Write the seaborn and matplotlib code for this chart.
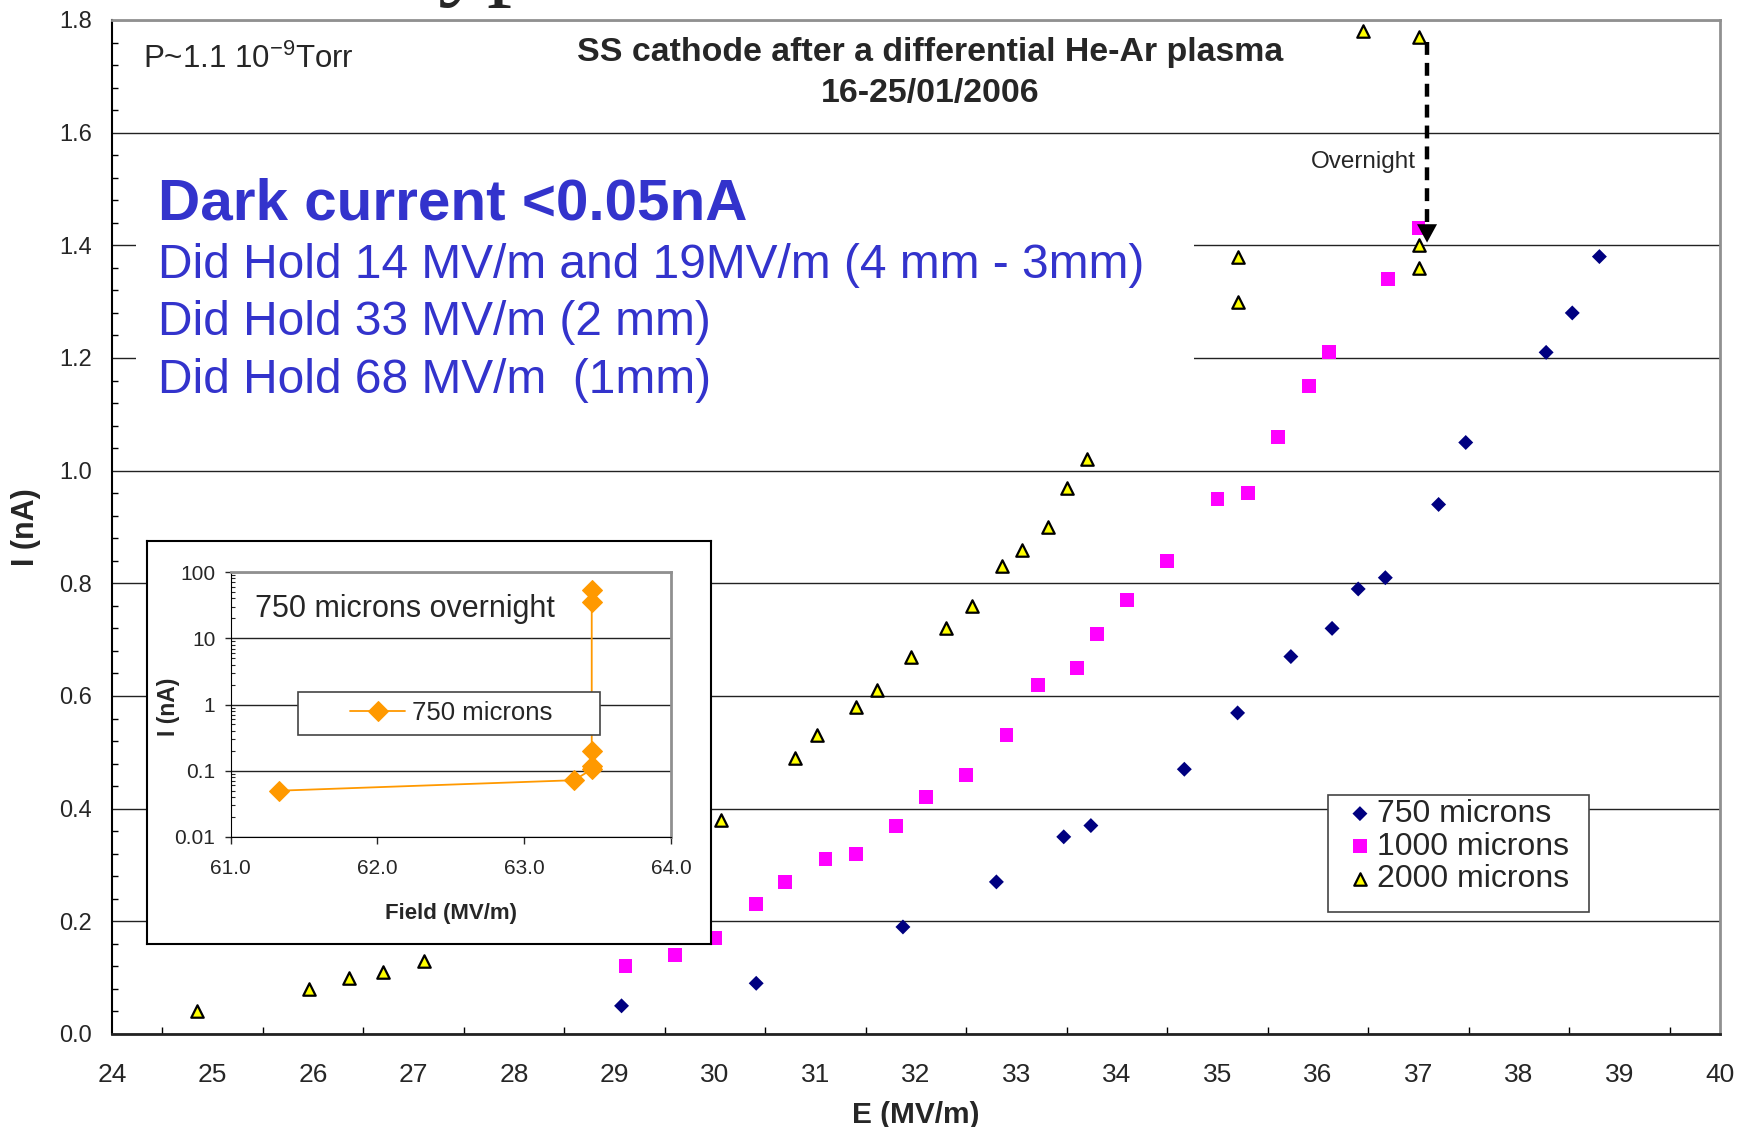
import numpy as np
import pandas as pd
import matplotlib
matplotlib.use('Agg')
import matplotlib.pyplot as plt
import seaborn as sns
from matplotlib.ticker import MultipleLocator, FuncFormatter, LogLocator, NullLocator
from matplotlib.patches import Rectangle

sns.set_style('white')
plt.rcParams['font.family'] = ['Liberation Sans', 'DejaVu Sans']
plt.rcParams['mathtext.fontset'] = 'custom'
plt.rcParams['mathtext.rm'] = 'Liberation Sans'
plt.rcParams['mathtext.it'] = 'Liberation Sans:italic'
plt.rcParams['mathtext.bf'] = 'Liberation Sans:bold'

# 750 microns gap
e_750 = [29.07, 30.41, 31.87, 32.80, 33.47, 33.74, 34.67, 35.20, 35.73, 36.14,
         36.40, 36.67, 37.20, 37.47, 38.27, 38.53, 38.80]
i_750 = [0.05, 0.09, 0.19, 0.27, 0.35, 0.37, 0.47, 0.57, 0.67, 0.72,
         0.79, 0.81, 0.94, 1.05, 1.21, 1.28, 1.38]

# 1000 microns gap
e_1000 = [29.11, 29.60, 30.00, 30.41, 30.70, 31.10, 31.40, 31.80, 32.10, 32.50,
          32.90, 33.21, 33.60, 33.80, 34.10, 34.50, 35.00, 35.30, 35.60, 35.91,
          36.11, 36.70, 37.00]
i_1000 = [0.12, 0.14, 0.17, 0.23, 0.27, 0.31, 0.32, 0.37, 0.42, 0.46,
          0.53, 0.62, 0.65, 0.71, 0.77, 0.84, 0.95, 0.96, 1.06, 1.15,
          1.21, 1.34, 1.43]

# 2000 microns gap
e_2000 = [24.85, 25.96, 26.36, 26.70, 27.10, 30.06, 30.80, 31.01, 31.40, 31.61,
          31.95, 32.30, 32.56, 32.86, 33.05, 33.31, 33.50, 33.70, 35.20, 35.20,
          36.45, 37.00, 37.00, 37.00]
i_2000 = [0.04, 0.08, 0.10, 0.11, 0.13, 0.38, 0.49, 0.53, 0.58, 0.61,
          0.67, 0.72, 0.76, 0.83, 0.86, 0.90, 0.97, 1.02, 1.30, 1.38,
          1.78, 1.77, 1.40, 1.36]

# inset: 750 microns overnight
field_night = [61.33, 63.34, 63.46, 63.46, 63.46, 63.46, 63.46]
i_night = [0.05, 0.072, 0.105, 0.12, 0.2, 35, 54]

# overnight arrow (data coords)
arrow_x = 37.085
arrow_top = 1.761
arrow_tip = 1.40

W, H = 1738, 1127
def fx(px):
    return px / W
def fy(py):
    return 1 - py / H

blue = '#3333CC'
orange = '#FF9900'

fig = plt.figure(figsize=(17.38, 11.27), dpi=100)
ax = fig.add_axes([fx(112), fy(1034), (1720 - 112) / W, (1034 - 20) / H])

sns.scatterplot(x=e_750, y=i_750, marker='D', s=58, color='#000080',
                edgecolor='none', label='750 microns', ax=ax, zorder=3)
sns.scatterplot(x=e_1000, y=i_1000, marker='s', s=100, color='#FF00FF',
                edgecolor='none', label='1000 microns', ax=ax, zorder=3)
sns.scatterplot(x=e_2000, y=i_2000, marker='^', s=80, color='#FFFF00',
                edgecolor='black', linewidth=1.6, label='2000 microns', ax=ax, zorder=4)

ax.set_xlim(24, 40)
ax.set_ylim(0, 1.8)
ax.set_xticks(np.arange(24, 41, 1))
ax.set_yticks(np.arange(0, 1.81, 0.2))
ax.yaxis.set_major_formatter(FuncFormatter(lambda v, _: f'{v:.1f}'))
ax.xaxis.set_minor_locator(MultipleLocator(0.5))
ax.yaxis.set_minor_locator(MultipleLocator(0.04))
ax.tick_params(axis='y', which='major', direction='out', length=6.5, width=1,
               labelsize=17, pad=8, color='black')
ax.tick_params(axis='y', which='minor', direction='in', length=4.3, width=1, color='black', left=True)
ax.tick_params(axis='x', which='major', direction='inout', length=11.5, width=1,
               labelsize=19, pad=15, color='black')
ax.tick_params(axis='x', which='minor', direction='in', length=5, width=1, color='black', bottom=True)

ax.set_axisbelow(True)
ax.yaxis.grid(True, color='#222222', linewidth=1.0)
ax.xaxis.grid(False)
for side in ['top', 'right']:
    ax.spines[side].set_color('#909090')
    ax.spines[side].set_linewidth(2)
ax.spines['left'].set_color('black')
ax.spines['left'].set_linewidth(1.5)
ax.spines['bottom'].set_color('#222222')
ax.spines['bottom'].set_linewidth(2)

ax.set_xlabel('E (MV/m)', fontsize=21.5, fontweight='bold')
ax.set_ylabel('I (nA)', fontsize=22, fontweight='bold')
ax.xaxis.set_label_coords(0.5, -0.066)
ax.yaxis.set_label_coords(-0.044, 0.5)

# white block behind the annotation text hides the grid there
ax.add_patch(Rectangle((24.24, 1.1), 34.77 - 24.24, 0.42, facecolor='white',
                       edgecolor='none', zorder=1))

# overnight arrow
ax.plot([arrow_x, arrow_x], [arrow_top, arrow_tip + 0.03], color='black',
        linestyle='--', linewidth=3.2, dashes=(2.9, 1.8), zorder=5)
ax.annotate('', xy=(arrow_x, arrow_tip), xytext=(arrow_x, arrow_tip + 0.035),
            arrowprops=dict(arrowstyle='-|>,head_length=0.55,head_width=0.3',
                            color='black', lw=0, mutation_scale=24), zorder=5)

# legend: frame drawn as a box, entries placed inside it
ax.add_patch(Rectangle((fx(1328), fy(912)), (1589 - 1328) / W, (912 - 795) / H,
                       transform=fig.transFigure, facecolor='white',
                       edgecolor='#444444', linewidth=1.2, zorder=4.5))
ax.legend(loc='upper left', bbox_to_anchor=(fx(1343), fy(799)),
          bbox_transform=fig.transFigure, borderaxespad=0, fontsize=23,
          frameon=False, borderpad=0, labelspacing=0.08, handlelength=1.06,
          handletextpad=0.0)

# texts
fig.text(fx(143), fy(68), r'P~1.1 10$^{\mathrm{-9}}$Torr', fontsize=22.5, va='baseline', ha='left')
fig.text(fx(930), fy(61), 'SS cathode after a differential He-Ar plasma', fontsize=24.4,
         fontweight='bold', ha='center', va='baseline')
fig.text(fx(930), fy(102), '16-25/01/2006', fontsize=24.4, fontweight='bold',
         ha='center', va='baseline')
fig.text(fx(158), fy(219), 'Dark current <0.05nA', fontsize=42, fontweight='bold',
         color=blue, ha='left', va='baseline')
fig.text(fx(158), fy(278), 'Did Hold 14 MV/m and 19MV/m (4 mm - 3mm)', fontsize=34.5,
         color=blue, ha='left', va='baseline')
fig.text(fx(158), fy(335), 'Did Hold 33 MV/m (2 mm)', fontsize=34.5,
         color=blue, ha='left', va='baseline')
fig.text(fx(158), fy(393), 'Did Hold 68 MV/m  (1mm)', fontsize=34.5,
         color=blue, ha='left', va='baseline')
fig.text(fx(1363), fy(162), 'Overnight', fontsize=17.5, ha='center', va='center')
# clipped fragment of the slide title above the chart
fig.text(fx(438), 1 + 13 / H, 'yp', fontsize=72, family='Liberation Serif',
         ha='left', va='baseline')

# inset frame
ax_box = fig.add_axes([fx(147), fy(944), (711 - 147) / W, (944 - 541) / H])
ax_box.set_xticks([])
ax_box.set_yticks([])
ax_box.set_facecolor('white')
for s in ax_box.spines.values():
    s.set_color('black')
    s.set_linewidth(1.5)

ax_in = fig.add_axes([fx(230.6), fy(837), 440.4 / W, 265 / H])
sns.lineplot(x=field_night, y=i_night, sort=False, estimator=None, marker='D',
             markersize=10.5, markeredgecolor=orange, color=orange, linewidth=1.3,
             label='750 microns', ax=ax_in)
ax_in.set_yscale('log')
ax_in.set_xlim(61, 64)
ax_in.set_ylim(0.01, 100)
ax_in.set_xticks([61, 62, 63, 64])
ax_in.xaxis.set_major_formatter(FuncFormatter(lambda v, _: f'{v:.1f}'))
ax_in.xaxis.set_minor_locator(NullLocator())
ax_in.set_yticks([0.01, 0.1, 1, 10, 100])
ax_in.yaxis.set_major_formatter(FuncFormatter(lambda v, _: f'{v:g}'))
ax_in.yaxis.set_minor_locator(LogLocator(base=10, subs=np.arange(2, 10)))
ax_in.yaxis.set_minor_formatter(FuncFormatter(lambda v, _: ''))
ax_in.tick_params(axis='y', which='major', direction='out', length=4, width=1,
                  labelsize=15, pad=7, left=True)
ax_in.tick_params(axis='y', which='minor', direction='in', length=2.7, width=0.8, left=True)
ax_in.tick_params(axis='x', which='major', direction='out', length=4.8, width=1,
                  labelsize=15, pad=11, bottom=True)
ax_in.set_axisbelow(True)
ax_in.yaxis.grid(True, which='major', color='#222222', linewidth=1.0)
ax_in.xaxis.grid(False)
for side in ['top', 'right']:
    ax_in.spines[side].set_color('#909090')
    ax_in.spines[side].set_linewidth(2)
ax_in.spines['left'].set_color('black')
ax_in.spines['bottom'].set_color('black')
ax_in.set_xlabel('Field (MV/m)', fontsize=16, fontweight='bold')
ax_in.set_ylabel('I (nA)', fontsize=16.5, fontweight='bold')
ax_in.xaxis.set_label_coords(0.5, -0.249)
ax_in.yaxis.set_label_coords(-0.115, 0.49)
ax_in.add_patch(Rectangle((fx(298), fy(735)), (600 - 298) / W, (735 - 692) / H,
                          transform=fig.transFigure, facecolor='white',
                          edgecolor='#444444', linewidth=1.2, zorder=4))
ax_in.legend(loc='center left', bbox_to_anchor=(fx(350), fy(713)),
             bbox_transform=fig.transFigure, borderaxespad=0, fontsize=18.5,
             frameon=False, borderpad=0, handlelength=2.15, handletextpad=0.25)
fig.text(fx(255), fy(617), '750 microns overnight', fontsize=22, ha='left', va='baseline')

fig.savefig('out.png', dpi=100)
